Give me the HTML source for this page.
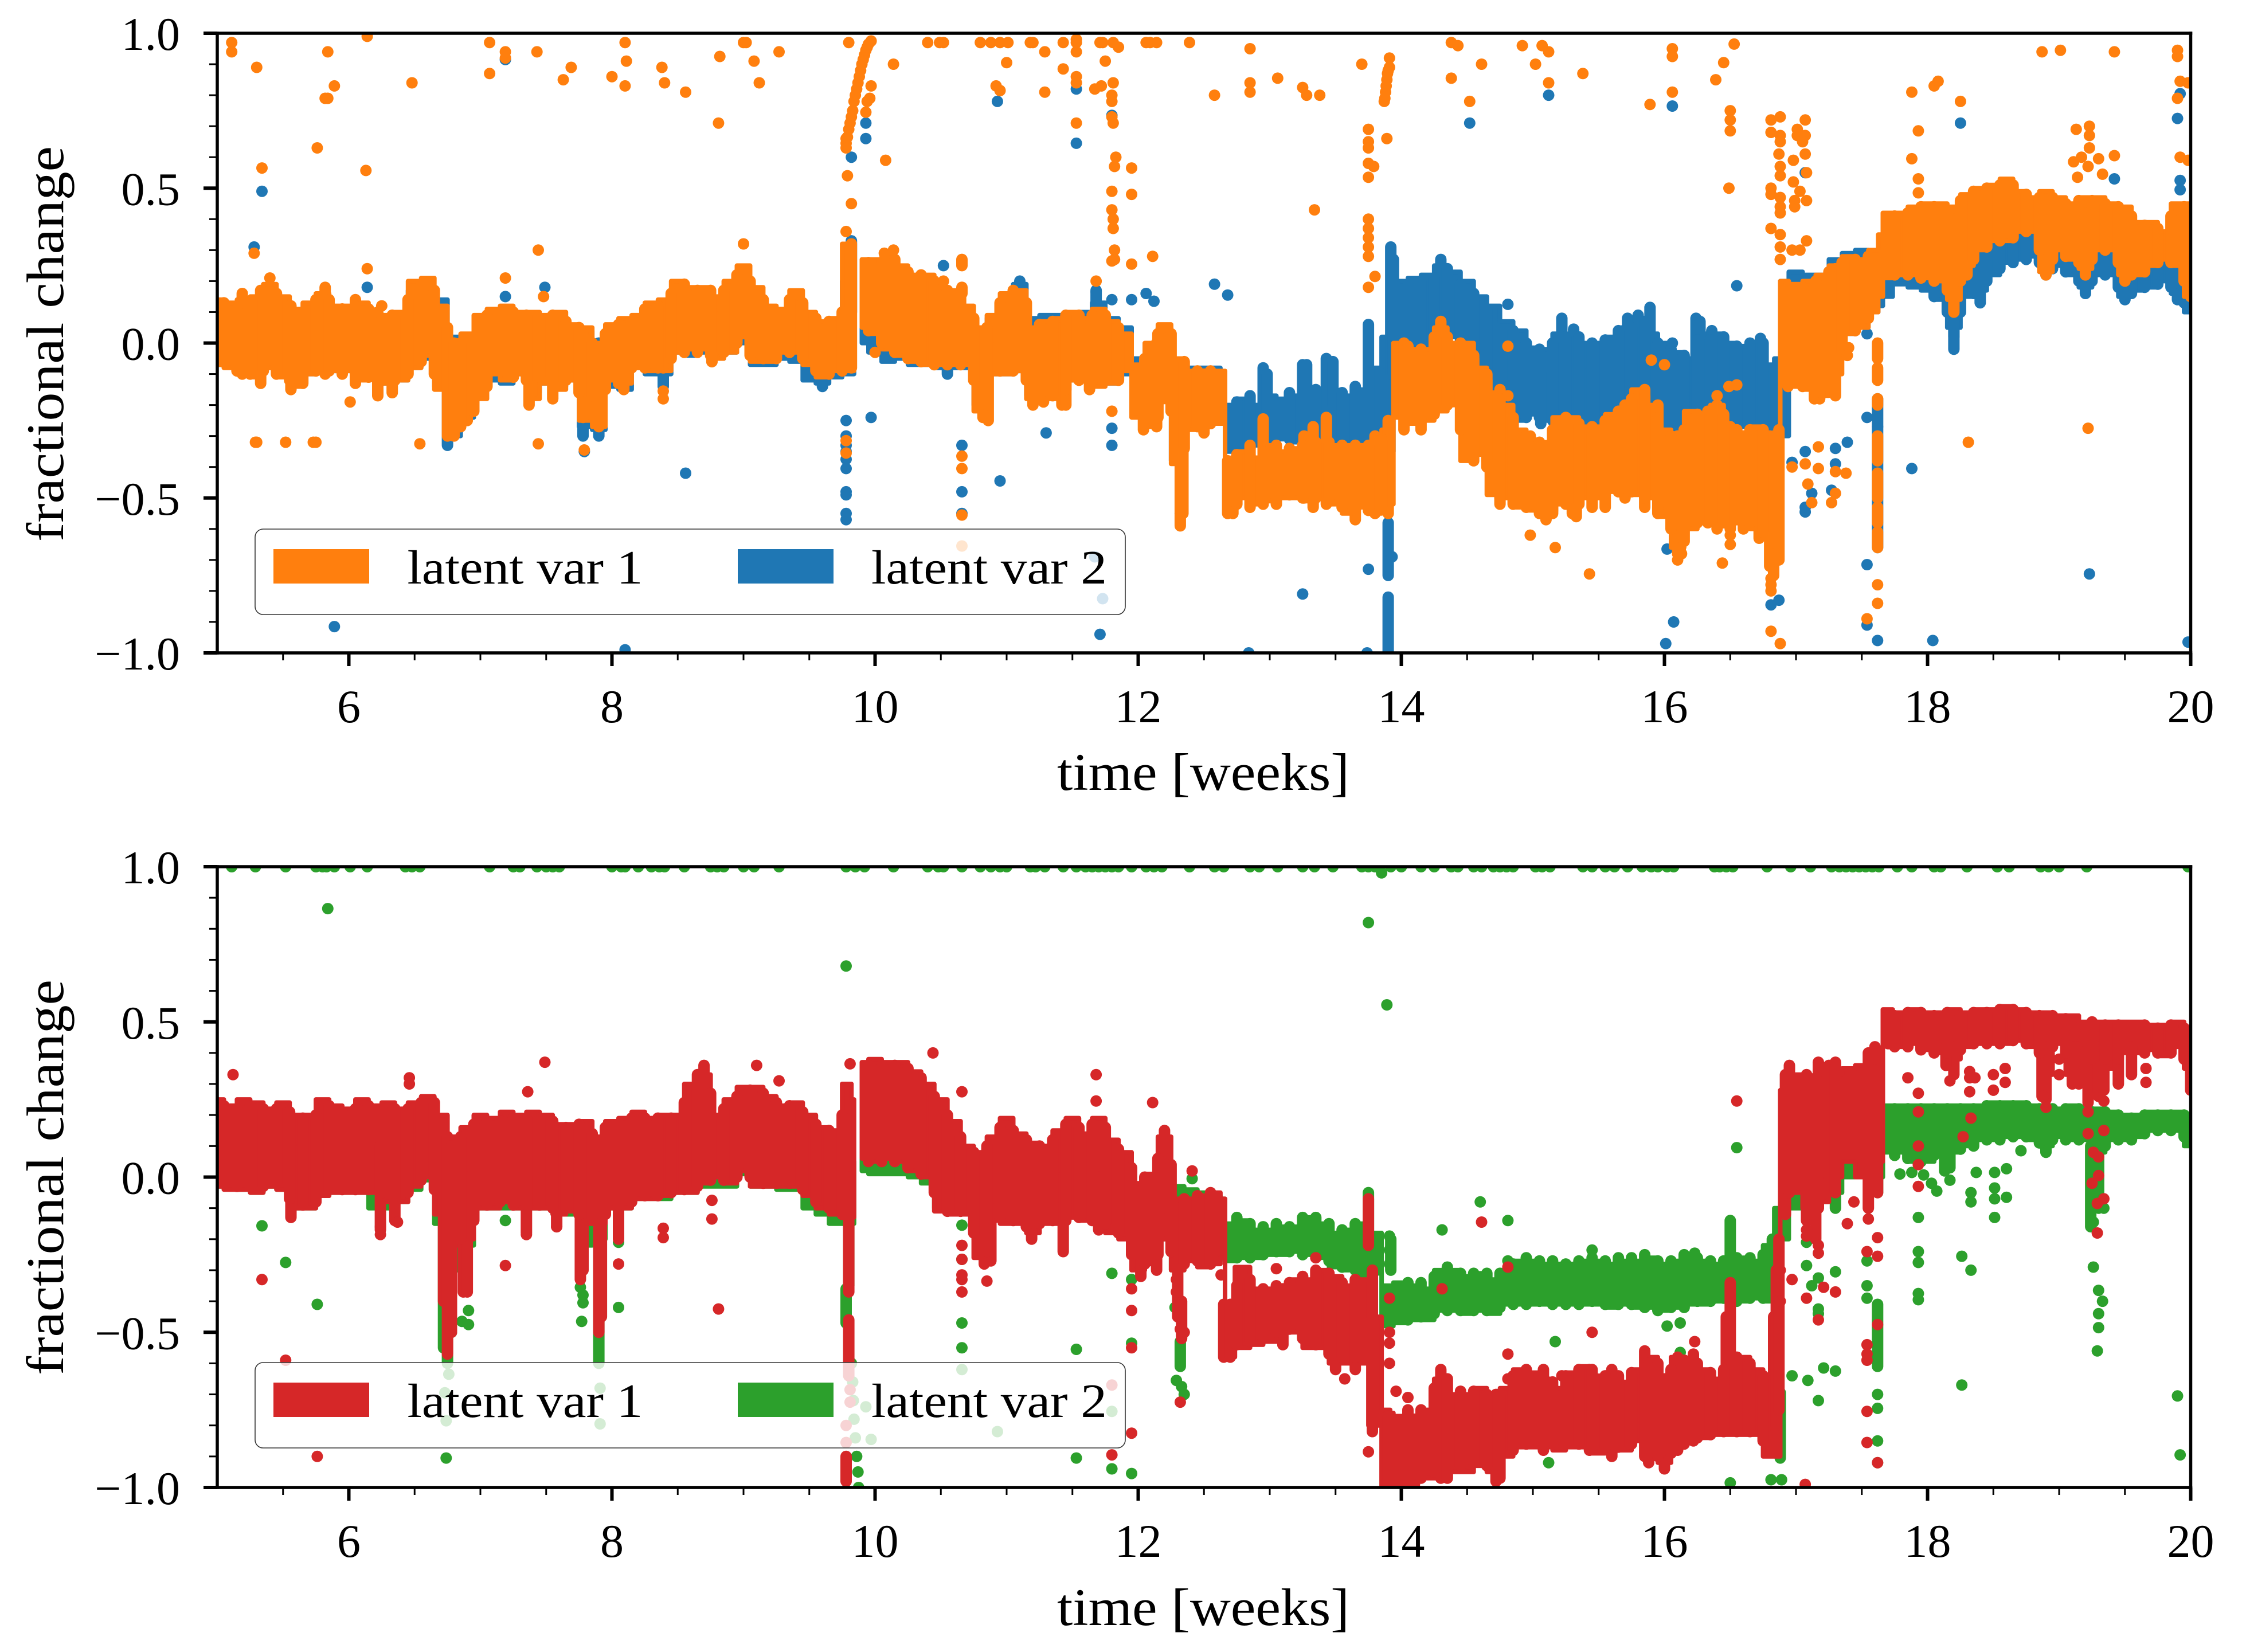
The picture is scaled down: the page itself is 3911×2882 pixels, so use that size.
<!DOCTYPE html>
<html lang="en">
<head>
<meta charset="utf-8">
<title>Latent variable fractional change over time</title>
<style>
html,body{margin:0;padding:0;background:#fff;}
svg{display:block;}
text{font-family:"Liberation Serif",serif;fill:#000;}
</style>
</head>
<body>
<svg id="figure" xmlns="http://www.w3.org/2000/svg" width="3911" height="2882" viewBox="0 0 3911 2882">
<rect x="0" y="0" width="3911" height="2882" fill="#fff"/>
</svg>
<script>
// ---------- shared axis values ----------
const xMajorTicks = [6, 8, 10, 12, 14, 16, 18, 20];
const xMinorTicks = [5.5, 6.5, 7, 7.5, 8.5, 9, 9.5, 10.5, 11, 11.5, 12.5, 13, 13.5, 14.5, 15, 15.5, 16.5, 17, 17.5, 18.5, 19, 19.5];
const yMajorTicks = [1, 0.5, 0, -0.5, -1];
const yMajorLabels = ['1.0', '0.5', '0.0', '\u22120.5', '\u22121.0'];
const yMinorTicks = [0.9, 0.8, 0.7, 0.6, 0.4, 0.3, 0.2, 0.1, -0.1, -0.2, -0.3, -0.4, -0.6, -0.7, -0.8, -0.9];

// ---------- sample times shared by the dense bands ----------
const bandWeeks = [
5.0,5.1,5.2,5.3,5.4,5.5,5.6,5.7,5.8,5.9,6.0,6.1,6.2,6.3,6.4,6.5,6.6,6.7,6.8,6.9,7.0,7.1,7.2,7.3,7.4,7.5,7.6,7.7,7.8,7.9,8.0,8.1,8.2,8.3,8.4,8.5,8.6,8.7,8.8,8.9,9.0,9.1,9.2,9.3,9.4,9.5,9.6,9.7,9.8,9.84,
9.9,10.0,10.1,10.2,10.3,10.4,10.5,10.6,10.7,10.8,10.9,11.0,11.1,11.2,11.3,11.4,11.5,11.6,11.7,11.8,11.9,12.0,12.1,12.2,12.3,12.4,12.5,12.6,
12.65,12.67,
12.8,12.9,13.0,13.1,13.2,13.3,13.4,13.5,13.6,13.7,13.8,13.9,
13.93,13.95,
14.0,14.1,14.2,14.3,14.4,14.5,14.6,14.7,14.8,14.9,15.0,15.1,15.2,15.3,15.4,15.5,15.6,15.7,15.8,15.9,16.0,16.1,16.2,16.3,16.4,16.5,16.6,16.7,16.8,
16.87,16.89,
17.0,17.1,17.2,17.3,17.4,17.5,17.6,
17.65,17.67,
17.8,17.9,18.0,18.1,18.2,18.3,18.4,18.5,18.6,18.7,18.8,18.9,19.0,19.1,19.2,19.3,19.4,19.5,19.6,19.7,19.8,19.9,20.0];
const bandGapWeeks = [9.84];

// ---------- top panel: latent var 1 (orange) ----------
const topVar1High = [
.14,.13,.14,.15,.19,.15,.11,.13,.16,.12,.12,.13,.09,.09,.10,.20,.21,.12,.0,.03,.09,.11,.12,.10,.10,.09,.10,.06,.05,.0,.06,.08,.09,.13,.14,.2,.18,.18,.15,.2,.25,.18,.12,.11,.17,.1,.07,.08,.32,.3,
.27,.27,.29,.25,.22,.22,.18,.17,.12,.05,.09,.16,.17,.05,.07,.08,.10,.08,.11,.07,.03,-.07,.0,.06,-.05,-.09,-.09,-.09,
-.09,-.38,
-.35,-.37,-.33,-.35,-.34,-.33,-.32,-.33,-.33,-.33,-.33,-.28,
-.28,.0,
.0,-.02,-.02,.05,.0,.0,-.08,-.16,-.2,-.28,-.32,-.32,-.24,-.24,-.27,-.27,-.23,-.21,-.15,-.2,-.28,-.32,-.22,-.25,-.2,-.27,-.3,-.27,-.3,
-.3,.2,
.19,.2,.22,.25,.28,.27,.3,
.35,.42,
.42,.44,.45,.45,.44,.48,.5,.51,.53,.49,.47,.49,.47,.45,.47,.47,.45,.44,.39,.39,.36,.45,.45];
const topVar1Low = [
-.07,-.08,-.09,-.11,-.08,-.11,-.14,-.10,-.09,-.09,-.09,-.12,-.11,-.13,-.12,-.08,-.04,-.15,-.28,-.22,-.18,-.1,-.12,-.10,-.18,-.13,-.15,-.12,-.25,-.27,-.12,-.13,-.08,-.09,-.09,-.03,-.02,-.02,-.05,-.03,.02,-.06,-.06,-.03,-.03,-.07,-.11,-.09,-.09,-.09,
.05,.03,-.02,-.04,-.06,-.07,-.07,-.07,-.07,-.22,-.1,-.10,-.09,-.18,-.18,-.18,-.12,-.12,-.14,-.13,-.09,-.24,-.27,-.19,-.39,-.28,-.26,-.26,
-.26,-.54,
-.5,-.52,-.51,-.5,-.5,-.51,-.5,-.52,-.55,-.53,-.55,-.52,
-.52,-.24,
-.24,-.26,-.25,-.22,-.2,-.38,-.36,-.49,-.5,-.53,-.54,-.56,-.52,-.53,-.5,-.5,-.48,-.48,-.49,-.5,-.56,-.66,-.6,-.57,-.58,-.58,-.55,-.6,-.62,
-.68,-.12,
-.14,-.15,-.17,-.1,.03,.05,.1,
.15,.21,
.22,.22,.21,.2,.14,.25,.3,.33,.33,.36,.36,.23,.3,.27,.24,.3,.3,.22,.22,.25,.27,.25,.15];
const topVar1Spikes = [
[5.19,.16,-.1],[5.33,.17,-.13],[5.56,.12,-.15],[5.82,.18,-.1],[6.05,.14,-.13],[6.22,.1,-.17],[6.33,.09,-.16],[6.75,.05,-.3],[6.8,.0,-.3],[6.9,.0,-.25],[6.95,.02,-.22],[7.37,.05,-.2],[7.55,.09,-.18],[7.78,.03,-.24],[7.9,-.05,-.27],[7.92,-.05,-.26],[8.09,.05,-.15],[8.76,.1,-.06],[8.39,.0,-.08],[9.82,.32,-.08],[10.66,.27,.25],[10.66,.18,.16],[10.82,.02,-.24],[10.86,.0,-.25],[11.2,.0,-.2],[11.28,.0,-.19],[11.42,.05,-.2],[11.45,.05,-.2],[11.63,.05,-.15],[12.04,-.1,-.28],[12.14,.0,-.27],[12.32,-.2,-.59],[12.34,-.2,-.55],[12.5,-.1,-.29],
[12.68,-.38,-.55],[12.72,-.38,-.55],[12.85,-.33,-.53],[12.95,-.245,-.52],[13.05,-.33,-.52],[13.26,-.3,-.5],[13.33,-.27,-.53],[13.43,-.24,-.52],[13.65,-.33,-.57],[13.8,-.3,-.55],[13.9,-.25,-.55],
[14.02,.0,-.28],[14.15,-.02,-.28],[14.3,.07,-.2],[14.55,-.05,-.38],[14.65,-.1,-.38],[14.75,-.15,-.52],[14.98,-.3,-.52],[15.1,-.35,-.57],[15.15,-.33,-.55],[15.3,-.3,-.55],[15.33,-.3,-.56],[15.45,-.3,-.53],[15.55,-.27,-.53],[15.7,-.2,-.5],[15.85,-.15,-.53],[15.95,-.2,-.55],
[16.1,-.3,-.68],[16.12,-.32,-.68],[16.33,-.22,-.58],[16.4,-.2,-.6],[16.5,-.27,-.6],[16.6,-.3,-.6],[16.72,-.3,-.63],[16.8,-.3,-.72],[16.83,-.3,-.75],[16.87,-.28,-.7],
[16.94,.18,-.14],[17.1,.16,-.13],[17.14,.16,-.18],[17.18,.2,-.18],[17.3,.24,-.17],[17.62,.0,-.05],[17.62,-.08,-.12],[17.62,-.18,-.2],[17.62,-.3,-.38],[17.62,-.42,-.5],[17.62,-.53,-.58],[17.62,-.61,-.66],
[18.2,.4,.1],[18.3,.45,.22],[18.9,.42,.22],[19.2,.42,.22],[19.5,.42,.2],[20.0,.42,.15]];
const topVar1Fine = [
[5.05,.13,-.06],[5.15,.11,-.09],[5.25,.13,-.1],[5.35,.14,-.09],[5.45,.16,-.1],[5.55,.12,-.12],[5.65,.1,-.13],[5.75,.14,-.09],[5.85,.14,-.09],[5.95,.11,-.1],[6.05,.12,-.1],[6.15,.11,-.11],[6.25,.08,-.12],[6.35,.08,-.12],[6.45,.14,-.1],[6.55,.19,-.06],[6.65,.17,-.1],[6.85,.0,-.27],[7.05,.09,-.14],[7.15,.1,-.09],[7.25,.1,-.11],[7.35,.09,-.12],[7.45,.08,-.11],[7.55,.08,-.12],[7.65,.07,-.12],[7.75,.05,-.16],[7.85,.0,-.17],[7.95,.03,-.15],[8.05,.06,-.13],[8.15,.07,-.08],[8.25,.11,-.08],[8.35,.12,-.08],[8.45,.16,-.05],[8.55,.19,-.03],[8.65,.17,-.03],[8.75,.17,-.04],[8.85,.17,-.03],[8.95,.22,.0],[9.05,.2,-.04],[9.15,.14,-.05],[9.25,.1,-.05],[9.35,.14,-.03],[9.45,.13,-.05],[9.55,.08,-.09],[9.65,.07,-.1],[9.75,.1,-.09],
[9.95,.26,.04],[10.05,.26,.0],[10.15,.27,-.03],[10.25,.23,-.05],[10.35,.22,-.06],[10.45,.2,-.07],[10.55,.17,-.07],[10.65,.15,-.07],[10.75,.08,-.12],[10.85,.05,-.2],[10.95,.13,-.09],[11.05,.17,-.09],[11.15,.13,-.12],[11.25,.06,-.17],[11.35,.07,-.17],[11.45,.09,-.15],[11.55,.09,-.12],[11.65,.09,-.12],[11.75,.09,-.12],[11.85,.05,-.12],[12.05,-.05,-.25],[12.15,.03,-.24],[12.25,.03,-.22],[12.35,-.06,-.34],[12.45,-.09,-.27],[12.55,-.09,-.26],
[12.75,-.36,-.52],[12.85,-.36,-.5],[12.95,-.35,-.51],[13.05,-.34,-.5],[13.15,-.34,-.49],[13.25,-.33,-.5],[13.35,-.32,-.5],[13.45,-.32,-.5],[13.55,-.33,-.53],[13.65,-.33,-.54],[13.75,-.33,-.54],[13.85,-.31,-.53],
[14.05,-.01,-.25],[14.15,-.02,-.24],[14.25,.02,-.23],[14.35,.02,-.2],[14.45,.0,-.28],[14.55,-.04,-.36],[14.65,-.12,-.4],[14.75,-.18,-.5],[14.85,-.24,-.52],[14.95,-.3,-.53],[15.05,-.32,-.55],[15.15,-.28,-.54],[15.25,-.24,-.52],[15.35,-.26,-.52],[15.45,-.27,-.5],[15.55,-.25,-.49],[15.65,-.22,-.48],[15.75,-.18,-.48],[15.85,-.17,-.5],[15.95,-.24,-.53],[16.05,-.3,-.6],[16.15,-.28,-.64],[16.25,-.23,-.58],[16.35,-.22,-.57],[16.45,-.23,-.58],[16.55,-.28,-.57],[16.65,-.28,-.58],[16.75,-.28,-.61],
[17.05,.18,-.14],[17.15,.2,-.16],[17.25,.23,-.14],[17.35,.26,-.03],[17.45,.27,.04],[17.55,.28,.08],
[17.75,.41,.22],[17.85,.42,.22],[17.95,.44,.21],[18.05,.44,.2],[18.15,.43,.17],[18.25,.46,.2],[18.35,.49,.27],[18.45,.5,.31],[18.55,.51,.33],[18.65,.51,.34],[18.75,.48,.36],[18.85,.47,.3],[18.95,.47,.27],[19.05,.45,.28],[19.15,.46,.26],[19.25,.46,.27],[19.35,.45,.3],[19.45,.44,.26],[19.55,.41,.22],[19.65,.38,.23],[19.75,.37,.26],[19.85,.41,.26],[19.95,.44,.2]];
const topVar1Dots = [
[5.11,.97],[5.11,.94],[5.30,.89],[5.84,.94],[5.89,.83],[5.82,.79],[5.84,.79],[6.14,.99],[6.48,.84],[5.76,.63],[5.34,.565],[6.13,.557],[7.07,.97],[7.07,.87],[7.19,.94],[7.19,.92],[7.43,.94],[7.63,.85],[7.69,.89],[8.0,.86],[8.10,.97],[8.11,.91],[8.10,.83],[8.38,.89],[8.40,.84],[8.56,.81],[8.82,.925],[8.81,.71],[9.0,.97],[9.0,.32],[7.44,.3],[5.28,.29],[6.14,.24],[5.40,.21],[7.19,.21],[7.48,.15],[6.25,.12],[6.01,-.19],[5.29,-.32],[5.30,-.32],[5.52,-.32],[5.73,-.32],[5.75,-.32],[6.54,-.325],[7.44,-.325],[7.79,-.345],[8.39,-.155],[8.39,-.18],[8.76,-.04],[8.76,-.06],
[9.02,.97],[9.8,.97],[10.4,.97],[10.49,.97],[10.52,.97],[10.8,.97],[10.88,.97],[10.95,.97],[11.01,.97],[11.18,.97],[11.2,.97],[11.43,.97],[11.53,.97],[11.71,.97],[11.73,.97],[11.81,.97],[12.06,.97],[12.09,.97],[12.14,.97],[12.39,.97],
[9.08,.91],[9.27,.94],[9.12,.84],[11.53,.98],[11.53,.94],[11.29,.94],[11.85,.955],[11.0,.905],[11.75,.91],[10.14,.9],[11.43,.885],[11.53,.86],[11.53,.84],[10.92,.83],[10.95,.815],[11.29,.81],[11.67,.82],[11.72,.83],[11.81,.84],[11.8,.8],[11.8,.78],[11.8,.73],[11.81,.71],[11.53,.71],[10.08,.59],[9.79,.54],[9.82,.45],[9.78,.36],[11.83,.6],[11.82,.57],[11.95,.565],[11.95,.48],[11.8,.49],[11.8,.43],[11.81,.4],[11.81,.37],[11.82,.3],[11.82,.27],[11.8,.265],[11.95,.255],[12.11,.28],[10.07,.29],[10.14,.3],[10.52,.2],[11.68,.2],
[9.78,.645],[9.78,.63],[9.78,.66],[9.79,.665],[9.8,.69],[9.81,.71],[9.82,.73],[9.83,.75],[9.84,.78],[9.85,.8],[9.86,.82],[9.87,.84],[9.88,.86],[9.89,.88],[9.9,.9],[9.91,.915],[9.92,.93],[9.93,.945],[9.94,.955],[9.95,.965],[9.97,.975],[9.97,.83],[9.96,.79],[9.94,.78],[9.93,.745],
[9.78,-.315],[9.78,-.355],[10.66,-.365],[10.66,-.405],[10.66,-.555],[10.66,-.655],[11.8,-.22],[10.0,-.03],
[13.7,.9],[12.85,.95],[12.85,.84],[12.85,.81],[13.06,.855],[13.25,.825],[13.28,.80],[13.38,.8],[12.58,.8],[13.91,.92],[13.87,.78],[13.875,.79],[13.88,.81],[13.885,.83],[13.89,.85],[13.895,.87],[13.9,.88],[13.91,.89],[13.89,.66],[13.75,.69],[13.75,.65],[13.75,.63],[13.75,.58],[13.75,.535],[13.79,.57],[13.34,.43],[13.75,.4],[13.75,.37],[13.75,.34],[13.75,.31],[13.75,.28],[13.75,.18],[13.8,.215],[14.38,.97],[14.43,.96],[14.38,.855],[14.52,.78],[14.61,.9],[14.92,.96],[15.07,.96],[15.12,.94],[15.02,.9],[15.38,.87],[15.12,.84],[15.89,.77],[16.06,.95],[16.06,.925],[16.06,.81],[16.45,.905],[16.53,.965],[16.39,.85],[16.5,.75],[16.5,.72],[16.5,.685],[16.49,.5],
[16.81,.72],[16.81,.68],[16.88,.73],[16.88,.67],[16.88,.65],[16.87,.61],[16.88,.57],[16.88,.54],[16.81,.5],[16.81,.48],[16.88,.47],[16.88,.44],[16.88,.42],[16.81,.37],[16.88,.35],[16.88,.31],[16.88,.27],
[17.01,.69],[17.07,.72],[17.07,.67],[17.01,.67],[17.05,.65],[17.07,.61],[16.98,.59],[17.08,.55],[16.98,.52],[17.03,.49],[17.08,.46],[16.99,.46],[16.99,.44],[17.08,.33],[17.03,.3],[16.97,.3],
[17.88,.81],[18.05,.83],[18.08,.845],[18.25,.78],[17.93,.685],[17.88,.595],[17.93,.53],[17.93,.485],[18.87,.94],[19.01,.945],[19.42,.94],[19.9,.945],[19.9,.925],[19.9,.79],[19.92,.845],[19.98,.84],[19.92,.6],[19.98,.59],[19.13,.69],[19.23,.7],[19.23,.67],[19.23,.63],[19.3,.595],[19.11,.585],[19.17,.6],[19.22,.57],[19.33,.545],[19.14,.535],[19.42,.605],
[19.22,-.275],[18.31,-.32],[15.43,-.745],[15.17,-.66],[14.98,-.62],[16.44,-.71],[16.81,-.93],[16.88,-.97],[17.54,-.89],[17.62,-.78],[17.62,-.84],[17.38,-.42],[17.3,-.415],[16.97,-.4],[17.07,-.39],[17.09,-.455],[17.12,-.515],[17.27,-.515],[17.3,-.485],[17.17,-.405],[17.17,-.335],[17.4,-.015],[17.39,-.04],[16.81,-.76],[16.81,-.78],[16.81,-.8],[16.81,-.68],[14.81,-.01],[14.81,-.17],[15.9,-.055],[16.0,-.07],[16.49,-.14],[16.4,-.17],[16.55,-.135],[16.1,-.7],[16.13,-.68],[16.5,-.62],[16.5,-.65]];

// ---------- top panel: latent var 2 (blue) ----------
const topVar2High = [
.1,.1,.1,.1,.14,.12,.1,.1,.13,.1,.1,.1,.08,.08,.08,.17,.18,.14,.02,.02,.08,.09,.1,.08,.08,.08,.08,.05,.04,.0,.05,.06,.08,.1,.12,.15,.15,.15,.13,.16,.2,.15,.1,.1,.13,.09,.06,.07,.2,.2,
.2,.2,.22,.2,.18,.18,.15,.15,.1,.05,.08,.15,.19,.08,.09,.09,.1,.1,.13,.08,.05,-.05,-.02,.05,-.06,-.08,-.08,-.08,
-.1,-.2,
-.18,-.2,-.17,-.18,-.17,-.18,-.16,-.17,-.17,-.15,-.08,.02,
.05,.18,
.2,.21,.22,.25,.23,.2,.15,.12,.07,.04,-.015,-.02,.03,.0,.0,.0,.02,.05,.07,.03,.0,-.03,-.05,.03,.03,.0,-.01,-.02,-.07,
-.05,.2,
.23,.22,.22,.27,.29,.3,.28,
.29,.3,
.3,.3,.3,.3,.3,.35,.4,.4,.4,.4,.4,.4,.4,.4,.4,.4,.4,.38,.35,.35,.35,.4,.4];
const topVar2Low = [
-.07,-.07,-.09,-.1,-.08,-.1,-.12,-.1,-.09,-.09,-.09,-.11,-.1,-.13,-.12,-.08,-.05,-.14,-.3,-.24,-.17,-.12,-.13,-.1,-.16,-.13,-.14,-.12,-.27,-.28,-.14,-.15,-.08,-.1,-.1,-.03,-.04,-.03,-.05,-.03,.0,-.07,-.07,-.05,-.06,-.12,-.13,-.11,-.1,-.1,
.0,-.03,-.06,-.05,-.07,-.07,-.08,-.08,-.08,-.2,-.1,-.1,-.09,-.17,-.17,-.17,-.12,-.12,-.13,-.13,-.1,-.22,-.25,-.18,-.38,-.27,-.25,-.26,
-.26,-.35,
-.35,-.33,-.33,-.31,-.32,-.32,-.33,-.33,-.33,-.33,-.33,-.35,
-.35,-.1,
-.05,-.03,-.03,.0,.02,-.05,-.1,-.18,-.22,-.25,-.23,-.25,-.25,-.25,-.26,-.27,-.25,-.25,-.26,-.27,-.3,-.35,-.32,-.3,-.26,-.27,-.27,-.27,-.3,
-.35,-.3,
-.1,-.1,-.1,-.05,.03,.05,.1,
.12,.15,
.19,.18,.17,.14,.05,.15,.17,.22,.26,.27,.28,.23,.25,.22,.18,.22,.22,.15,.17,.18,.2,.16,.1];
const topVar2Spikes = [
[6.75,.0,-.33],[7.78,.0,-.3],[7.9,.0,-.3],[8.39,.05,-.14],[9.82,.33,.1],[9.6,.0,-.14],[10.55,.1,-.1],[11.1,.2,.14],[11.68,.17,.05],
[12.95,-.08,-.34],[12.98,-.1,-.34],[13.25,-.07,-.3],[13.28,-.07,-.3],[13.43,-.05,-.2],[13.48,-.06,-.2],[13.75,.06,-.27],[13.92,.31,-.1],[13.94,.27,-.1],[14.3,.27,.0],
[15.22,.08,-.25],[15.31,.045,-.25],[15.72,.08,-.25],[15.8,.09,-.25],[15.89,.115,-.27],[16.24,.08,-.3],[16.27,.07,-.3],[16.36,.04,-.3],[16.73,.015,-.3],[15.06,-.1,-.26],[15.4,-.1,-.28],[16.01,-.1,-.38],[16.12,-.1,-.38],[16.68,-.1,-.32],[16.85,-.1,-.44],[17.62,-.18,-.66],[13.9,-.58,-.75],[13.9,-.82,-1.0],[18.2,.15,.02],[18.2,.12,-.02],[18.9,.3,.22],[19.2,.3,.16],[19.5,.3,.14],[19.9,.3,.14],[18.4,.3,.13]];
const topVar2Fine = [
[12.75,-.19,-.34],[12.85,-.17,-.34],[13.15,-.16,-.31],[13.35,-.15,-.32],[13.55,-.16,-.33],[13.65,-.14,-.32],
[14.05,.19,-.03],[14.15,.2,-.02],[14.25,.21,.0],[14.35,.24,.02],[14.45,.19,.0],[14.55,.16,-.08],[14.65,.11,-.15],[14.85,.04,-.23],[14.95,.0,-.24],[15.05,-.02,-.24],[15.15,.0,-.25],[15.25,.02,-.24],[15.35,.02,-.26],[15.45,.0,-.26],[15.55,.01,-.25],[15.65,.04,-.24],[15.75,.05,-.26],[15.85,.07,-.27],[15.95,.0,-.28],[16.05,-.02,-.32],[16.15,-.04,-.34],[16.25,.01,-.32],[16.35,.01,-.27],[16.45,.02,-.26],[16.55,-.01,-.27],[16.65,.0,-.27],[16.75,.0,-.27],
[18.05,.3,.15],[18.15,.3,.1],[18.25,.3,.1],[18.35,.35,.16],[18.45,.38,.2],[18.55,.38,.24],[18.65,.38,.26],[18.75,.38,.27],[18.85,.38,.26],[18.95,.38,.24],[19.05,.38,.23],[19.15,.38,.2],[19.25,.38,.2],[19.35,.38,.22],[19.45,.36,.18],[19.55,.35,.16],[19.65,.33,.18],[19.75,.33,.19],[19.85,.33,.18],[19.95,.36,.13]];
const topVar2Dots = [
[5.28,.31],[5.34,.49],[6.14,.18],[7.49,.18],[7.19,.15],[6.64,.16],[8.56,-.42],[5.89,-.915],[8.1,-.99],[7.19,.915],[7.79,-.35],[8.39,-.11],[8.39,-.13],
[10.93,.78],[11.53,.82],[11.53,.645],[11.8,.735],[9.93,.71],[9.93,.66],[9.82,.6],[10.52,.25],[12.58,.19],[12.68,.155],[11.95,.14],[12.06,.16],[12.12,.135],[11.8,.14],[11.68,.165],[11.1,.19],[14.52,.71],[9.97,-.24],[11.3,-.29],
[9.78,-.25],[9.78,-.3],[9.78,-.33],[9.78,-.35],[9.78,-.375],[9.78,-.405],[9.78,-.48],[9.78,-.49],[9.78,-.55],[9.78,-.57],[10.66,-.33],[10.66,-.48],[10.66,-.55],[10.95,-.445],[11.8,-.33],[11.8,-.275],[11.71,-.94],[11.73,-.825],[11.67,-.69],[13.75,-.73],[13.25,-.81],[12.84,-1],[13.74,-1],[12.32,-.55],[13.93,-.69],
[15.12,.8],[16.06,.765],[18.25,.71],[19.9,.725],[19.92,.805],[19.92,.525],[19.92,.495],[19.42,.53],[17.07,.55],[14.81,.125],[16.55,.185],[16.06,.0],[16.02,-.665],[16.07,-.9],[16.01,-.97],[16.81,-.845],[16.87,-.83],[17.54,-.715],[17.54,-.91],[17.62,-.96],[18.04,-.96],[17.88,-.405],[19.23,-.745],[19.98,-.965],[17.54,-.24],[17.54,.03],[17.62,-.27],[17.39,-.32],[17.3,-.34],[17.3,-.39],[17.27,-.475],[17.07,-.545],[17.07,-.53],[17.12,-.485],[16.97,-.385],[17.07,-.35]];

// ---------- bottom panel: latent var 1 (red) ----------
const bottomVar1High = [
.25,.23,.25,.24,.22,.24,.2,.2,.25,.23,.22,.25,.23,.24,.22,.24,.26,.2,.13,.16,.2,.19,.21,.2,.21,.2,.17,.17,.18,.13,.18,.19,.21,.19,.2,.2,.3,.33,.2,.25,.29,.29,.26,.23,.24,.2,.16,.15,.3,.25,
.37,.38,.37,.37,.34,.3,.25,.18,.1,.08,.13,.19,.14,.11,.1,.15,.19,.14,.19,.12,.08,-.02,.01,.13,-.07,-.07,-.06,-.05,
-.07,-.41,
-.29,-.36,-.36,-.36,-.33,-.33,-.3,-.32,-.35,-.33,-.45,-.75,
-.76,-.77,
-.77,-.78,-.75,-.65,-.7,-.7,-.68,-.72,-.68,-.62,-.63,-.65,-.68,-.63,-.61,-.64,-.63,-.66,-.62,-.58,-.65,-.58,-.6,-.62,-.65,-.6,-.58,-.62,-.68,
-.35,.28,
.33,.28,.35,.33,.35,.36,.36,
.4,.54,
.53,.54,.53,.53,.54,.53,.54,.54,.55,.54,.53,.53,.52,.52,.5,.5,.5,.5,.5,.49,.49,.5,.48];
const bottomVar1Low = [
-.03,-.04,-.04,-.05,-.03,-.04,-.1,-.1,-.06,-.05,-.05,-.05,-.05,-.08,-.08,-.03,.0,-.12,-.22,-.2,-.1,-.1,-.08,-.1,-.1,-.1,-.12,-.11,-.15,-.15,-.1,-.1,-.07,-.07,-.06,-.05,-.05,-.02,.0,-.02,.02,-.03,-.03,-.03,-.03,-.06,-.1,-.12,-.13,-.13,
.06,.05,.06,.05,.02,.0,-.11,-.12,-.12,-.26,-.14,-.15,-.15,-.18,-.15,-.15,-.13,-.14,-.14,-.18,-.2,-.3,-.28,-.2,-.3,-.27,-.29,-.28,
-.26,-.58,
-.55,-.54,-.53,-.5,-.5,-.55,-.55,-.6,-.6,-.6,-.8,-1.0,
-1,-1,
-1,-.98,-.97,-.97,-.95,-.95,-.93,-.95,-.9,-.87,-.87,-.87,-.88,-.87,-.87,-.89,-.88,-.88,-.85,-.9,-.92,-.87,-.85,-.84,-.83,-.83,-.83,-.83,-.9,
-.9,-.12,
-.05,-.1,-.08,.0,.05,.0,.0,
.05,.44,
.42,.43,.41,.4,.38,.42,.43,.43,.43,.44,.42,.33,.43,.33,.33,.33,.35,.4,.4,.41,.39,.42,.35];
const bottomVar1Spikes = [
[5.56,.1,-.13],[6.24,.1,-.17],[6.35,.1,-.14],[6.72,.1,-.4],[6.75,.13,-.57],[6.78,.1,-.5],[6.87,.0,-.37],[6.9,.0,-.37],[7.35,.0,-.18],[7.58,.0,-.16],[7.76,-.05,-.33],[7.78,.0,-.3],[7.9,.0,-.5],[7.92,-.1,-.45],[8.05,-.05,-.2],[8.7,.36,.1],[8.65,.33,.1],
[9.8,.0,-.37],[9.8,-.46,-.64],[9.78,-.9,-.98],[10.83,-.05,-.28],[10.88,-.1,-.27],[11.19,.0,-.2],[11.43,.0,-.24],[11.7,.0,-.17],[12.02,-.1,-.32],[12.14,.0,-.3],[12.2,.15,-.1],[12.3,-.1,-.45],[12.33,-.4,-.52],[12.65,-.41,-.58],[12.7,-.41,-.58],[13.1,-.36,-.54],[13.5,-.35,-.62],[13.65,-.35,-.62],[13.75,-.07,-.22],[13.78,-.3,-.82],
[13.9,-.77,-1.02],[14.05,-.75,-1.02],[14.3,-.62,-.97],[14.35,-.65,-.97],[14.72,-.7,-.98],[14.75,-.7,-.97],[15.08,-.62,-.88],[15.43,-.62,-.88],[15.6,-.62,-.9],[15.85,-.56,-.9],[15.88,-.6,-.92],[16.0,-.65,-.94],[16.1,-.58,-.88],[16.22,-.57,-.85],
[16.5,-.34,-.65],[16.47,-.45,-.65],[16.83,-.45,-.8],[16.85,-.3,-.8],[16.87,-.2,-.75],
[16.92,.33,-.12],[16.95,.36,-.05],[17.08,.33,-.14],[17.12,.3,-.12],[17.17,.37,-.1],[17.25,.36,.0],[17.3,.37,-.05],[17.55,.4,-.1],[17.62,.38,-.05],[17.15,.32,-.2],
[18.87,.42,.26],[18.9,.42,.25],[19.1,.42,.3],[19.15,.42,.3],[19.22,.42,.24],[19.3,.42,.26],[19.34,.42,.28],[19.45,.42,.3],[19.55,.42,.33],[18.2,.42,.33],[18.14,.42,.36],[20.0,.45,.28],[17.6,.42,.38]];
const bottomVar1Fine = [
[5.05,.23,-.02],[5.15,.22,-.03],[5.25,.23,-.03],[5.35,.22,-.03],[5.45,.22,-.02],[5.55,.21,-.07],[5.65,.19,-.09],[5.75,.2,-.08],[5.85,.23,-.04],[5.95,.21,-.04],[6.05,.22,-.04],[6.15,.23,-.04],[6.25,.22,-.05],[6.35,.22,-.06],[6.45,.22,-.05],[6.55,.24,-.01],[6.65,.24,-.04],[6.85,.13,-.2],[6.95,.17,-.14],[7.05,.18,-.09],[7.15,.18,-.08],[7.25,.19,-.09],[7.35,.19,-.09],[7.45,.19,-.09],[7.55,.18,-.1],[7.65,.16,-.1],[7.75,.17,-.12],[7.85,.14,-.13],[7.95,.16,-.12],[8.05,.17,-.09],[8.15,.19,-.08],[8.25,.19,-.06],[8.35,.19,-.06],[8.45,.19,-.05],[8.55,.24,-.04],[8.65,.3,-.03],[8.75,.27,-.01],[8.85,.22,-.01],[8.95,.26,.0],[9.05,.28,.0],[9.15,.27,-.02],[9.25,.24,-.02],[9.35,.23,-.02],[9.45,.21,-.04],[9.55,.17,-.08],[9.65,.15,-.1],[9.75,.2,-.12],
[9.95,.36,.05],[10.05,.36,.05],[10.15,.36,.05],[10.25,.35,.03],[10.35,.32,.01],[10.45,.26,-.05],[10.55,.2,-.11],[10.65,.13,-.11],[10.75,.08,-.18],[10.85,.1,-.24],[10.95,.16,-.13],[11.05,.15,-.14],[11.15,.12,-.16],[11.25,.1,-.15],[11.35,.12,-.14],[11.45,.17,-.14],[11.55,.16,-.13],[11.65,.17,-.14],[11.75,.16,-.15],[11.85,.09,-.18],[11.95,.03,-.25],[12.05,.0,-.28],[12.15,.06,-.25],[12.25,.04,-.24],[12.35,-.07,-.28],[12.45,-.06,-.27],[12.55,-.05,-.28],
[12.75,-.35,-.54],[12.85,-.33,-.53],[12.95,-.36,-.52],[13.05,-.35,-.5],[13.15,-.34,-.49],[13.25,-.32,-.52],[13.35,-.3,-.54],[13.45,-.31,-.57],[13.55,-.34,-.58],[13.65,-.33,-.58],
[14.1,-.78,-.99],[14.15,-.75,-.97],[14.25,-.68,-.95],[14.45,-.69,-.93],[14.55,-.69,-.92],[14.65,-.7,-.93],[14.85,-.64,-.88],[14.95,-.62,-.86],[15.05,-.64,-.86],[15.15,-.66,-.86],[15.25,-.64,-.86],[15.35,-.62,-.86],[15.45,-.62,-.87],[15.55,-.64,-.87],[15.65,-.64,-.87],[15.75,-.63,-.86],[15.95,-.6,-.9],[16.05,-.62,-.89],[16.15,-.59,-.86],[16.25,-.6,-.84],[16.35,-.63,-.83],[16.45,-.62,-.82],[16.55,-.58,-.82],[16.65,-.6,-.82],[16.75,-.64,-.85],
[17.7,.52,.43],[17.75,.52,.42],[17.85,.53,.42],[17.95,.53,.41],[18.05,.52,.4],[18.15,.53,.4],[18.25,.52,.41],[18.35,.53,.43],[18.45,.53,.43],[18.55,.54,.43],[18.65,.54,.44],[18.75,.53,.43],[18.85,.52,.4],[18.95,.52,.42],[19.05,.51,.4],[19.25,.5,.38],[19.35,.49,.38],[19.45,.49,.38],[19.65,.49,.4],[19.75,.48,.4],[19.85,.49,.4],[19.95,.48,.38]];
const bottomVar1Dots = [
[5.12,.33],[7.49,.37],[6.46,.32],[6.46,.3],[7.36,.275],[5.34,-.33],[5.52,-.59],[5.76,-.9],[7.19,-.285],[8.81,-.425],[8.05,-.28],[8.76,-.135],[8.76,-.075],[6.24,-.16],[6.24,-.185],[6.37,-.145],[7.35,-.185],[8.39,-.165],[8.39,-.195],[7.58,-.16],
[11.68,.33],[11.68,.245],[12.11,.24],[10.66,.275],[10.44,.4],[12.41,.02],[9.81,.365],[9.1,.36],[9.27,.31],[10.85,-.335],[11.8,-.67],[11.95,-.825],[11.8,-.895],[14.61,-.145],[14.31,-.36],[13.91,-.39],[13.91,-.5],[13.91,-.535],[13.91,-.6],[13.35,-.26],[13.05,-.295],[13.57,-.65],[13.75,-.885],[14.05,-.71],[13.96,-.69],[12.63,-.315],[11.95,-.36],[11.95,-.43],[11.95,-.55],[12.32,-.725],[12.32,-.49],[12.35,-.5],[10.66,-.22],[10.66,-.265],[10.66,-.315],[10.66,-.33],[10.66,-.37],[9.81,-.685],[9.81,-.725],[9.78,-.8],[9.78,-.855],[12.29,-.33],[12.29,-.37],
[16.55,.245],[14.81,-.29],[14.81,-.57],[14.81,-.65],[15.45,-.5],[16.23,-.53],[15.22,-.64],[17.93,.27],[17.93,.21],[17.93,.1],[17.93,.04],[17.93,-.03],[17.85,.32],[18.33,.19],[18.27,.13],[18.59,.35],[18.59,.305],[19.0,.38],[19.0,.33],[18.32,.34],[18.32,.32],[18.36,.32],[18.32,.275],[18.5,.33],[18.5,.28],[18.17,.31],[19.66,.35],[19.66,.305],[18.88,.26],[18.9,.225],
[19.22,.26],[19.22,.21],[19.22,.14],[19.26,.08],[19.3,.065],[19.3,.005],[19.25,-.02],[19.34,.245],[19.34,.15],[19.29,-.085],[19.34,-.07],[19.29,-.18],[17.55,-.135],[17.44,-.08],[17.39,-.15],[17.08,-.17],[17.08,-.19],[17.17,-.22],[17.17,-.245],[17.17,-.46],[17.08,-.39],[17.21,-.355],[17.3,-.37],[16.97,-.33],[17.62,-.195],[17.62,-.255],[17.62,-.475],[17.54,-.24],[17.54,-.54],[17.54,-.57],[17.54,-.59],[17.54,-.755],[17.54,-.855],[17.62,-.92],[17.07,-.99],[16.88,-.3],[16.88,-.4]];

// ---------- bottom panel: latent var 2 (green) ----------
const bottomVar2High = [
.05,.05,.05,.05,.05,.05,.05,.05,.05,.05,.05,.05,.05,.05,.05,.05,.05,.05,.0,.0,.05,.05,.05,.05,.05,.05,.05,.05,.05,.0,.05,.05,.05,.05,.05,.05,.05,.05,.05,.05,.05,.05,.05,.05,.05,.05,.05,.05,.05,.05,
.1,.1,.1,.1,.1,.08,.0,-.03,-.03,-.03,-.03,-.03,-.03,-.03,-.03,-.03,-.03,-.03,-.03,-.03,-.03,-.05,-.05,-.03,-.03,-.04,-.05,-.06,
-.07,-.15,
-.14,-.17,-.17,-.16,-.16,-.13,-.15,-.18,-.17,-.15,-.18,-.35,
-.35,-.34,
-.34,-.35,-.36,-.3,-.3,-.32,-.31,-.33,-.3,-.27,-.27,-.28,-.28,-.28,-.27,-.27,-.28,-.27,-.27,-.26,-.28,-.27,-.26,-.27,-.28,-.27,-.26,-.27,-.22,
-.1,.05,
.15,.15,.15,.15,.15,.15,.15,
.2,.23,
.23,.23,.23,.23,.23,.23,.23,.24,.24,.24,.23,.23,.22,.23,.22,.22,.21,.2,.2,.21,.21,.21,.2];
const bottomVar2Low = [
-.03,-.03,-.04,-.05,-.03,-.04,-.1,-.1,-.06,-.05,-.05,-.05,-.1,-.1,-.08,-.04,-.01,-.15,-.3,-.22,-.1,-.1,-.1,-.1,-.1,-.1,-.12,-.12,-.22,-.2,-.1,-.1,-.07,-.07,-.07,-.05,-.05,-.03,-.03,-.03,.01,-.03,-.03,-.04,-.04,-.1,-.12,-.15,-.15,-.15,
.02,.01,.01,.01,.0,-.02,-.1,-.12,-.12,-.2,-.13,-.13,-.13,-.15,-.13,-.13,-.12,-.13,-.13,-.15,-.17,-.25,-.25,-.2,-.3,-.22,-.25,-.27,
-.26,-.27,
-.26,-.26,-.25,-.25,-.24,-.25,-.26,-.29,-.3,-.3,-.31,-.48,
-.48,-.47,
-.47,-.46,-.46,-.43,-.43,-.44,-.43,-.44,-.41,-.41,-.41,-.41,-.41,-.41,-.41,-.41,-.42,-.41,-.42,-.42,-.43,-.42,-.41,-.41,-.4,-.4,-.4,-.39,-.4,
-.37,-.2,
-.1,-.07,-.08,-.05,.0,.0,.0,
.0,.08,
.08,.05,.05,.08,.08,.1,.12,.12,.13,.13,.12,.1,.13,.12,.12,.08,.12,.12,.13,.15,.15,.15,.1];
const bottomVar2Spikes = [
[6.72,.0,-.55],[6.75,.0,-.6],[6.78,.0,-.5],[7.77,-.05,-.3],[7.9,-.1,-.6],[9.8,.0,-.35],[9.78,-.36,-.47],[13.75,-.05,-.2],[13.92,-.2,-.3],[16.5,-.14,-.28],[16.82,-.2,-.33],[18.9,.2,.08],[18.13,.15,.02],[18.17,.15,.03],[19.24,.1,-.16],[12.32,-.53,-.61],[17.62,-.41,-.61],[16.88,-.695,-.905],[19.3,.1,-.1],[17.3,.0,-.1],[17.62,.0,-.05]];
const bottomVar2Fine = [
[12.75,-.13,-.26],[12.85,-.15,-.26],[12.95,-.16,-.25],[13.05,-.15,-.24],[13.15,-.16,-.24],[13.25,-.13,-.25],[13.35,-.13,-.25],[13.45,-.15,-.27],[13.55,-.17,-.29],[13.65,-.15,-.3],
[14.05,-.34,-.46],[14.15,-.34,-.45],[14.25,-.32,-.44],[14.35,-.29,-.43],[14.45,-.31,-.43],[14.55,-.31,-.43],[14.65,-.31,-.43],[14.75,-.31,-.42],[14.85,-.28,-.41],[14.95,-.26,-.41],[15.05,-.27,-.4],[15.15,-.27,-.41],[15.25,-.28,-.41],[15.35,-.27,-.41],[15.45,-.26,-.4],[15.55,-.27,-.41],[15.65,-.26,-.41],[15.75,-.26,-.41],[15.85,-.25,-.42],[15.95,-.27,-.43],[16.05,-.27,-.42],[16.15,-.25,-.42],[16.25,-.26,-.4],[16.35,-.27,-.4],[16.45,-.27,-.39],[16.55,-.26,-.4],[16.65,-.26,-.39],[16.75,-.25,-.39],
[17.75,.22,.07],[17.85,.22,.06],[17.95,.22,.05],[18.05,.22,.07],[18.15,.22,.07],[18.25,.22,.09],[18.35,.22,.1],[18.45,.23,.12],[18.55,.23,.12],[18.65,.23,.13],[18.75,.23,.13],[18.85,.22,.11],[18.95,.22,.12],[19.05,.22,.12],[19.15,.22,.12],[19.25,.21,.1],[19.35,.21,.1],[19.45,.2,.12],[19.55,.19,.12],[19.65,.2,.14],[19.75,.2,.15],[19.85,.2,.15],[19.95,.2,.13]];
const bottomVar2Dots = [
[5.84,.865],[5.34,-.157],[5.52,-.275],[5.76,-.41],[7.19,-.14],[6.74,-.905],[6.74,-.785],[6.73,-.695],[6.76,-.635],[8.05,-.21],[8.05,-.42],[6.86,-.465],[6.91,-.43],[6.91,-.475],[7.77,-.465],[7.78,-.405],[7.78,-.38],[7.76,-.355],[7.91,-.68],[7.91,-.795],
[9.78,.68],[13.75,.82],[13.89,.555],[13.85,.98],[14.6,-.08],[14.31,-.17],[12.41,-.005],[11.8,-.31],[11.95,-.33],[11.53,-.555],[11.95,-.535],[10.66,-.47],[10.66,-.55],[10.66,-.62],[11.53,-.905],[11.8,-.94],[11.95,-.955],[11.8,-.755],[10.93,-.82],[9.97,-.845],[9.93,-.74],[10.66,-.265],[10.66,-.155],[13.91,-.19],[13.91,-.235],[13.91,-.28],[13.71,-.31],[12.29,-.655],[12.33,-.675],[12.35,-.7],[12.28,-.42],
[9.82,-.6],[9.83,-.66],[9.835,-.72],[9.84,-.78],[9.85,-.84],[9.86,-.9],[9.87,-.95],[9.875,-1.0],[9.88,-1.02],
[14.81,-.14],[14.81,-.27],[15.45,-.235],[16.23,-.245],[15.17,-.53],[15.12,-.92],[16.02,-.48],[16.12,-.47],[16.12,-.565],[16.55,.095],[16.5,-.985],[16.81,-.975],[16.89,-.975],[17.21,-.615],[17.3,-.625],[16.97,-.64],[17.09,-.655],[17.17,-.72],[17.62,-.7],[17.62,-.745],[17.62,-.85],[17.62,-.92],[17.54,-.27],[17.54,-.35],[17.54,-.39],[17.3,-.305],[17.17,-.425],[17.17,-.44],[17.12,-.35],[17.08,-.285],[17.17,-.325],[17.08,-.21],
[17.93,-.13],[17.93,-.24],[17.93,-.275],[17.93,-.375],[17.93,-.395],[18.26,-.255],[18.33,-.3],[18.26,-.67],[18.37,.015],[18.51,.015],[18.6,.027],[18.33,-.05],[18.33,-.08],[18.51,-.035],[18.51,-.07],[18.51,-.13],[18.6,-.065],[18.71,.085],[18.18,.09],[18.17,-.01],[18.07,-.045],[17.79,.01],[17.88,.015],[17.97,.007],[18.03,-.02],
[19.26,-.145],[19.26,-.29],[19.3,-.365],[19.3,-.44],[19.3,-.485],[19.29,-.56],[19.33,-.4],[19.34,-.1],[19.9,-.705],[19.92,-.895]];
const bottomVar2TopRow = [
5.11,5.29,5.52,5.75,5.8,5.83,5.89,6.01,6.14,6.43,6.48,6.54,7.07,7.25,7.3,7.43,7.5,7.55,7.6,8.0,8.07,8.1,8.2,8.3,8.36,8.4,8.55,8.75,8.8,8.85,9.0,9.08,9.27,9.78,9.85,9.92,10.14,10.4,10.48,10.52,10.66,10.8,10.88,10.95,11.0,11.18,11.22,11.29,11.43,11.53,11.6,11.65,11.7,11.75,11.8,11.85,11.95,12.06,12.12,12.18,12.39,12.58,12.65,12.85,12.92,13.06,13.25,13.34,13.48,13.7,13.75,13.8,13.92,14.0,14.15,14.25,14.38,14.43,14.55,14.61,14.7,14.75,14.8,14.85,15.02,15.07,15.13,15.38,15.45,15.55,15.62,15.72,15.83,15.9,15.95,16.02,16.07,16.38,16.42,16.47,16.52,16.78,16.96,17.11,17.27,17.33,17.38,17.43,17.48,17.53,17.58,17.63,17.77,17.88,18.05,18.1,18.3,18.53,18.62,18.86,18.92,19.0,19.21,19.98];

// ---------- drawing helpers ----------
const svg = document.getElementById('figure');
const NS = 'http://www.w3.org/2000/svg';
const plotLeft = 379, plotRight = 3821.5;

function create(tag, attrs, parent) {
  const el = document.createElementNS(NS, tag);
  for (const key in attrs) el.setAttribute(key, attrs[key]);
  parent.appendChild(el);
  return el;
}
function xScale(week) { return plotLeft + (week - 5) * (plotRight - plotLeft) / 15; }

// Each band sample holds its high/low level out to the midpoints with its neighbours.
function drawBand(group, yScale, high, low, color, name) {
  const gapIdx = bandGapWeeks.map(w => bandWeeks.indexOf(w));
  const stops = [0].concat(gapIdx.map(i => i + 1), [bandWeeks.length]);
  for (let s = 0; s + 1 < stops.length; s++) {
    const a = stops[s], b = stops[s + 1];
    let topPath = '', bottomPath = '';
    for (let i = a; i < b; i++) {
      const left = i === a ? bandWeeks[i] : (bandWeeks[i - 1] + bandWeeks[i]) / 2;
      const right = i === b - 1 ? bandWeeks[i] : (bandWeeks[i] + bandWeeks[i + 1]) / 2;
      const xl = xScale(left).toFixed(1), xr = xScale(right).toFixed(1);
      const yh = yScale(high[i]).toFixed(1), yl = yScale(low[i]).toFixed(1);
      topPath += (topPath ? 'L' : 'M') + xl + ' ' + yh + 'L' + xr + ' ' + yh;
      bottomPath = 'L' + xr + ' ' + yl + 'L' + xl + ' ' + yl + bottomPath;
    }
    const el = create('path', {d: topPath + bottomPath + 'Z', fill: color, stroke: color, 'stroke-width': 8, 'stroke-linejoin': 'round'}, group);
    
    
  }
}
function drawSpikes(group, yScale, rows, color, name) {
  rows.forEach(row => {
    const el = create('line', {x1: xScale(row[0]).toFixed(1), x2: xScale(row[0]).toFixed(1), y1: yScale(row[1]).toFixed(1), y2: yScale(row[2]).toFixed(1), stroke: color, 'stroke-width': 20, 'stroke-linecap': 'round'}, group);
    
    
  });
}
function drawDots(group, yScale, rows, color, name) {
  rows.forEach(row => {
    const el = create('circle', {cx: xScale(row[0]).toFixed(1), cy: yScale(row[1]).toFixed(1), r: 10, fill: color}, group);
    
    
  });
}

function drawPanel(cfg) {
  const top = cfg.top, bottom = cfg.bottom, panel = cfg.id;
  const yScale = v => top + (1 - v) * (bottom - top) / 2;
  const g = create('g', {}, svg);
  
  

  const clip = create('clipPath', {id: panel + '-clip'}, g);
  create('rect', {x: plotLeft, y: top, width: plotRight - plotLeft, height: bottom - top}, clip);
  const data = create('g', {'clip-path': 'url(#' + panel + '-clip)'}, g);
  
  

  cfg.series.forEach(s => {
    const sg = create('g', {}, data);
    
    
    drawBand(sg, yScale, s.high, s.low, s.color, s.name);
    drawSpikes(sg, yScale, s.spikes, s.color, s.name);
    drawSpikes(sg, yScale, s.fine, s.color, s.name + '-fine');
    drawDots(sg, yScale, s.dots, s.color, s.name);
    if (s.topRow) drawDots(sg, yScale, s.topRow.map(w => [w, 1]), s.color, s.name + '-saturated');
  });

  // spines
  [[plotLeft, top, plotRight, top], [plotLeft, bottom, plotRight, bottom], [plotLeft, top, plotLeft, bottom], [plotRight, top, plotRight, bottom]].forEach(c => {
    const el = create('line', {x1: c[0], y1: c[1], x2: c[2], y2: c[3], stroke: '#000', 'stroke-width': 5.5, 'stroke-linecap': 'square'}, g);
    
    
  });
  // x ticks
  xMajorTicks.forEach(w => {
    const el = create('line', {x1: xScale(w), x2: xScale(w), y1: bottom, y2: bottom + 23, stroke: '#000', 'stroke-width': 6}, g);
    
    
    const t = create('text', {x: xScale(w), y: bottom + 121, 'font-size': 82, 'text-anchor': 'middle'}, g);
    t.textContent = String(w);
    
    
  });
  xMinorTicks.forEach(w => {
    const el = create('line', {x1: xScale(w), x2: xScale(w), y1: bottom, y2: bottom + 13, stroke: '#000', 'stroke-width': 3}, g);
    
    
  });
  // y ticks
  yMajorTicks.forEach((v, i) => {
    const el = create('line', {x1: plotLeft - 24, x2: plotLeft, y1: yScale(v), y2: yScale(v), stroke: '#000', 'stroke-width': 6}, g);
    
    
    const t = create('text', {x: 314, y: yScale(v) + 29, 'font-size': 82, 'text-anchor': 'end'}, g);
    t.textContent = yMajorLabels[i];
    
    
  });
  yMinorTicks.forEach(v => {
    const el = create('line', {x1: plotLeft - 14, x2: plotLeft, y1: yScale(v), y2: yScale(v), stroke: '#000', 'stroke-width': 3}, g);
    
    
  });

  // axis titles
  const xt = create('text', {x: 1844, y: cfg.xTitleY, 'font-size': 92, textLength: 510, lengthAdjust: 'spacingAndGlyphs'}, g);
  xt.textContent = 'time [weeks]';
  
  
  const yMid = top + 540;
  const yt = create('text', {transform: 'translate(110 ' + (yMid + 347) + ') rotate(-90)', x: 0, y: 0, 'font-size': 92, textLength: 690, lengthAdjust: 'spacingAndGlyphs'}, g);
  yt.textContent = 'fractional change';
  
  

  // legend
  const ly = top + 865;
  const legend = create('g', {}, g);
  
  
  const box = create('rect', {x: 445, y: ly, width: 1518, height: 149, rx: 14, ry: 14, fill: '#fff', 'fill-opacity': 0.8, stroke: '#333', 'stroke-width': 1.6}, legend);
  
  
  [[477, 710.5, 411], [1287, 1520, 411]].forEach((pos, i) => {
    const s = cfg.series[1 - i];
    const patch = create('rect', {x: pos[0], y: ly + 35, width: 167, height: 60, fill: s.color}, legend);
    
    
    const label = create('text', {x: pos[1], y: ly + 95, 'font-size': 84, textLength: pos[2], lengthAdjust: 'spacingAndGlyphs'}, legend);
    label.textContent = 'latent var ' + (i + 1);
    
    
  });
}

drawPanel({
  id: 'top', top: 58, bottom: 1139, xTitleY: 1378,
  series: [
    {name: 'latent-var-2', color: '#1f77b4', high: topVar2High, low: topVar2Low, spikes: topVar2Spikes, fine: topVar2Fine, dots: topVar2Dots},
    {name: 'latent-var-1', color: '#ff7f0e', high: topVar1High, low: topVar1Low, spikes: topVar1Spikes, fine: topVar1Fine, dots: topVar1Dots}
  ]
});
drawPanel({
  id: 'bottom', top: 1512, bottom: 2595, xTitleY: 2835,
  series: [
    {name: 'latent-var-2', color: '#2ca02c', high: bottomVar2High, low: bottomVar2Low, spikes: bottomVar2Spikes, fine: bottomVar2Fine, dots: bottomVar2Dots, topRow: bottomVar2TopRow},
    {name: 'latent-var-1', color: '#d62728', high: bottomVar1High, low: bottomVar1Low, spikes: bottomVar1Spikes, fine: bottomVar1Fine, dots: bottomVar1Dots}
  ]
});
</script>
</body>
</html>
